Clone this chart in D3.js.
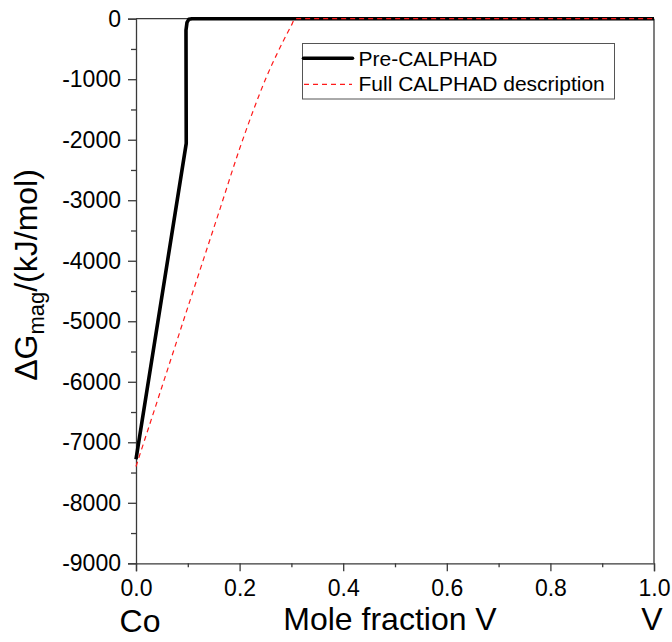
<!DOCTYPE html>
<html>
<head>
<meta charset="utf-8">
<script src="https://cdn.jsdelivr.net/npm/d3@7"></script>
<style>
  html, body { margin: 0; padding: 0; background: #ffffff; }
  svg { display: block; font-family: "Liberation Sans", Arial, sans-serif; }
</style>
</head>
<body>
<svg id="chart" width="672" height="642"></svg>
<script>
// ---- data ----
const preX = [0, 0.097, 0.0965, 0.0985, 0.102, 0.108, 1.0];
const preY = [-7280, -2060, -190, -60, -10, 0, 0];
const fullX = [0, 0.046, 0.092, 0.16, 0.2, 0.225, 0.25, 0.275, 0.3, 0.307, 1.0];
const fullY = [-7400, -6190, -4980, -3200, -2150, -1550, -1000, -530, -110, 0, 0];
const seriesNames = ["Pre-CALPHAD", "Full CALPHAD description"];
const xTicks = [0, 0.2, 0.4, 0.6, 0.8, 1.0];
const xTickLabels = ["0.0", "0.2", "0.4", "0.6", "0.8", "1.0"];
const xMinor = [0.1, 0.3, 0.5, 0.7, 0.9];
const yTicks = [0, -1000, -2000, -3000, -4000, -5000, -6000, -7000, -8000, -9000];
const yMinor = [-500, -1500, -2500, -3500, -4500, -5500, -6500, -7500, -8500];

// ---- layout ----
const L = 136, R = 654, T = 18.7, B = 563.3;
const svg = d3.select("#chart");
const x = d3.scaleLinear().domain([0, 1]).range([L, R]);
const y = d3.scaleLinear().domain([-9000, 0]).range([B, T]);
const axisColor = "#3a3a3a";

// frame (top and right lines)
svg.append("line").attr("x1", L).attr("x2", R).attr("y1", T).attr("y2", T)
  .attr("stroke", axisColor).attr("stroke-width", 1.3);
svg.append("line").attr("x1", R).attr("x2", R).attr("y1", T).attr("y2", B)
  .attr("stroke", axisColor).attr("stroke-width", 1.3);

// bottom axis
const xAxis = svg.append("g").attr("transform", `translate(0,${B})`)
  .call(d3.axisBottom(x).tickValues(xTicks).tickSize(8).tickPadding(8)
    .tickFormat((d, i) => xTickLabels[i]));
xAxis.select(".domain").attr("stroke", axisColor).attr("stroke-width", 1.3);
xAxis.selectAll(".tick line").attr("stroke", axisColor).attr("stroke-width", 1.3);
xAxis.selectAll(".tick text").attr("font-size", 23).attr("fill", "#000")
  .attr("font-family", "Liberation Sans, Arial, sans-serif");
const xAxisMinor = svg.append("g").attr("transform", `translate(0,${B})`)
  .call(d3.axisBottom(x).tickValues(xMinor).tickSize(4).tickFormat(""));
xAxisMinor.select(".domain").remove();
xAxisMinor.selectAll(".tick line").attr("stroke", axisColor).attr("stroke-width", 1.3);

// left axis
const yAxis = svg.append("g").attr("transform", `translate(${L},0)`)
  .call(d3.axisLeft(y).tickValues(yTicks).tickSize(8).tickPadding(7)
    .tickFormat(d => String(d)));
yAxis.select(".domain").attr("stroke", axisColor).attr("stroke-width", 1.3);
yAxis.selectAll(".tick line").attr("stroke", axisColor).attr("stroke-width", 1.3);
yAxis.selectAll(".tick text").attr("font-size", 23).attr("fill", "#000")
  .attr("font-family", "Liberation Sans, Arial, sans-serif");
const yAxisMinor = svg.append("g").attr("transform", `translate(${L},0)`)
  .call(d3.axisLeft(y).tickValues(yMinor).tickSize(5).tickFormat(""));
yAxisMinor.select(".domain").remove();
yAxisMinor.selectAll(".tick line").attr("stroke", axisColor).attr("stroke-width", 1.3);

// lines
const preData = preX.map((v, i) => [v, preY[i]]);
const fullData = fullX.map((v, i) => [v, fullY[i]]);
const line = d3.line().x(d => x(d[0])).y(d => y(d[1]));
const lineSmooth = d3.line().x(d => x(d[0])).y(d => y(d[1])).curve(d3.curveMonotoneX);

svg.append("path").datum(preData).attr("d", line)
  .attr("fill", "none").attr("stroke", "#000").attr("stroke-width", 3.6)
  .attr("stroke-linejoin", "round");
svg.append("path").datum(fullData).attr("d", lineSmooth)
  .attr("fill", "none").attr("stroke", "#ff1a1a").attr("stroke-width", 1.2)
  .attr("stroke-dasharray", "5,4");

// legend
const lg = svg.append("g");
lg.append("rect").attr("x", 302.5).attr("y", 43.5).attr("width", 312).attr("height", 55.5)
  .attr("fill", "#fff").attr("stroke", "#555").attr("stroke-width", 1);
lg.append("line").attr("x1", 303.5).attr("x2", 352.5).attr("y1", 58.3).attr("y2", 58.3)
  .attr("stroke", "#000").attr("stroke-width", 3.6).attr("stroke-linecap", "round");
lg.append("line").attr("x1", 304).attr("x2", 352).attr("y1", 84.3).attr("y2", 84.3)
  .attr("stroke", "#ff1a1a").attr("stroke-width", 1.2).attr("stroke-dasharray", "5,4");
lg.append("text").attr("x", 358.5).attr("y", 65.5).attr("font-size", 21).text(seriesNames[0]);
lg.append("text").attr("x", 358.5).attr("y", 91).attr("font-size", 21).text(seriesNames[1]);

// axis titles
svg.append("text").attr("x", 140).attr("y", 632).attr("text-anchor", "middle")
  .attr("font-size", 32).text("Co");
svg.append("text").attr("x", 390).attr("y", 630).attr("text-anchor", "middle")
  .attr("font-size", 32).text("Mole fraction V");
svg.append("text").attr("x", 652).attr("y", 630).attr("text-anchor", "middle")
  .attr("font-size", 32).text("V");

const yt = svg.append("text").attr("transform", "translate(37,275) rotate(-90)")
  .attr("text-anchor", "middle").attr("font-size", 32);
yt.append("tspan").text("ΔG");
yt.append("tspan").attr("font-size", 22).attr("dy", 7).text("mag");
yt.append("tspan").attr("dy", -7).text("/(kJ/mol)");
</script>
</body>
</html>
